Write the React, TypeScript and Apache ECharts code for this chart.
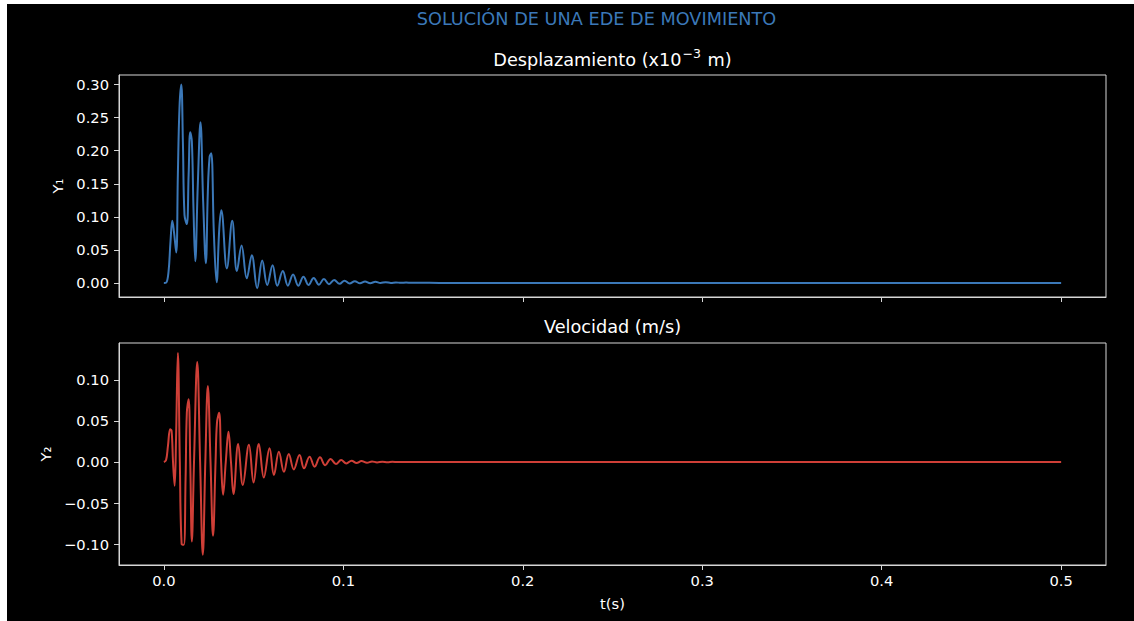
import React, { useEffect, useRef } from "react";
import * as echarts from "echarts";

// Displacement (x10^-3 m): time (s) and value
const T1 = [
  0, 0.0013, 0.0026, 0.0037, 0.0047, 0.0056, 0.0069, 0.0078, 0.0087, 0.0097,
  0.0106, 0.0115, 0.0128, 0.0138, 0.0147, 0.0156, 0.0165, 0.0175, 0.0189, 0.0204,
  0.0219, 0.0234, 0.0245, 0.0255, 0.0264, 0.0279, 0.0294, 0.0309, 0.032, 0.0351,
  0.0381, 0.0407, 0.0433, 0.0462, 0.049, 0.052, 0.0548, 0.0576, 0.0606, 0.0632,
  0.0663, 0.0691, 0.072, 0.0749, 0.0778, 0.0806, 0.0835, 0.0864, 0.0892, 0.092,
  0.0949, 0.0979, 0.1007, 0.1035, 0.1064, 0.1093, 0.1121, 0.115, 0.1179, 0.1207,
  0.1236, 0.1265, 0.1293, 0.1321, 0.135, 0.138, 0.1408, 0.148, 0.1592, 0.2,
  0.3, 0.4, 0.5,
];
const Y1 = [
  0, 0.0005, 0.017, 0.063, 0.094, 0.078, 0.046, 0.164, 0.265, 0.3,
  0.214, 0.103, 0.089, 0.164, 0.228, 0.214, 0.113, 0.033, 0.148, 0.243,
  0.123, 0.03, 0.138, 0.191, 0.196, 0.073, 0.001, 0.083, 0.11, 0.022,
  0.094, 0.018, 0.0565, 0.007, 0.042, -0.008, 0.034, -0.003, 0.027, -0.004,
  0.018, -0.004, 0.013, -0.004, 0.0095, -0.003, 0.0075, -0.0025, 0.006, -0.0018,
  0.0045, -0.0012, 0.0035, -0.0008, 0.0028, -0.0005, 0.0022, -0.0003, 0.0017, 0,
  0.0012, 0.0001, 0.0009, 0.0002, 0.0006, 0.0002, 0.0004, 0.0002, 0.0001, 0,
  0, 0, 0,
];

// Velocity (m/s)
const T2 = [
  0, 0.0012, 0.0023, 0.0035, 0.0043, 0.0051, 0.006, 0.0068, 0.0078, 0.0089,
  0.0099, 0.0111, 0.0121, 0.0128, 0.0138, 0.0147, 0.0156, 0.0168, 0.0186, 0.0202,
  0.0217, 0.0231, 0.0245, 0.026, 0.0274, 0.0288, 0.0296, 0.0308, 0.0319, 0.033,
  0.0345, 0.036, 0.0374, 0.0388, 0.0414, 0.044, 0.0474, 0.05, 0.0529, 0.0557,
  0.0589, 0.0613, 0.0641, 0.0669, 0.0696, 0.0724, 0.0756, 0.0781, 0.0812, 0.084,
  0.087, 0.0899, 0.0929, 0.0959, 0.0988, 0.1017, 0.1046, 0.1074, 0.1101, 0.1132,
  0.116, 0.1188, 0.1218, 0.1246, 0.1274, 0.1302, 0.1369, 0.2, 0.3, 0.4,
  0.5,
];
const Y2 = [
  0, 0.002, 0.02, 0.04, 0.038, 0.0, -0.029, 0.03, 0.133, 0.0,
  -0.1, -0.101, -0.02, 0.06, 0.0765, 0.0, -0.097, 0.0, 0.122, 0.0,
  -0.113, 0.0, 0.0927, 0.0, -0.09, 0.0, 0.048, 0.06, 0.0, -0.04,
  0.0, 0.037, 0.0, -0.039, 0.022, -0.028, 0.021, -0.025, 0.022, -0.019,
  0.0167, -0.016, 0.0126, -0.012, 0.0098, -0.009, 0.0085, -0.0077, 0.0065, -0.0057,
  0.0057, -0.004, 0.0037, -0.0024, 0.0024, -0.0018, 0.0016, -0.0013, 0.0011, -0.0009,
  0.0007, -0.0005, 0.0004, -0.0003, 0.0002, -0.0001, 0, 0, 0, 0,
  0,
];

const X_TICKS = [0, 0.1, 0.2, 0.3, 0.4, 0.5];
const Y1_TICKS = [0, 0.05, 0.1, 0.15, 0.2, 0.25, 0.3];
const Y2_TICKS = [-0.1, -0.05, 0, 0.05, 0.1];

const SUPTITLE = "SOLUCIÓN DE UNA EDE DE MOVIMIENTO";
const TITLE1_MAIN = "Desplazamiento (x10";
const TITLE1_SUP = "\u22123";
const TITLE1_END = " m)";
const TITLE2 = "Velocidad (m/s)";

const FONT = "DejaVu Sans";
const SPINE = "#d6d6d6";
const TXT = "#ffffff";
const TICK_FS = 14.7;
const TITLE_FS = 17.7;

const fmtY = (v: number) => v.toFixed(2).replace("-", "\u2212");

export default function App() {
  const ref = useRef<HTMLDivElement>(null);
  useEffect(() => {
    if (!ref.current) return;
    const chart = echarts.init(ref.current, null, { renderer: "svg" });
    const d1 = T1.map((t, i) => [t, Y1[i]]);
    const d2 = T2.map((t, i) => [t, Y2[i]]);
    const xAxisBase = (idx: number, labels: boolean) => ({
      type: "value",
      gridIndex: idx,
      min: -0.025,
      max: 0.525,
      splitLine: { show: false },
      axisLine: { show: true, onZero: false, lineStyle: { color: SPINE, width: 1 } },
      axisTick: {
        show: true,
        customValues: X_TICKS,
        length: 5,
        lineStyle: { color: SPINE, width: 1 },
      },
      axisLabel: {
        show: labels,
        customValues: X_TICKS,
        formatter: (v: number) => v.toFixed(1),
        color: TXT,
        fontFamily: FONT,
        fontSize: TICK_FS,
        margin: 8,
      },
      name: labels ? "t(s)" : "",
      nameLocation: "middle",
      nameGap: 31,
      nameTextStyle: { color: TXT, fontFamily: FONT, fontSize: TICK_FS },
    });
    const yAxisBase = (
      idx: number,
      min: number,
      max: number,
      ticks: number[],
      name: string,
      gap: number
    ) => ({
      type: "value",
      gridIndex: idx,
      min,
      max,
      splitLine: { show: false },
      axisLine: { show: true, onZero: false, lineStyle: { color: SPINE, width: 1 } },
      axisTick: {
        show: true,
        customValues: ticks,
        length: 5,
        lineStyle: { color: SPINE, width: 1 },
      },
      axisLabel: {
        customValues: ticks,
        formatter: fmtY,
        color: TXT,
        fontFamily: FONT,
        fontSize: TICK_FS,
        margin: 10,
      },
      name,
      nameLocation: "middle",
      nameGap: gap,
      nameTextStyle: { color: TXT, fontFamily: FONT, fontSize: TICK_FS },
    });
    chart.setOption({
      animation: false,
      backgroundColor: "#000000",
      graphic: [
        {
          type: "text",
          x: 589.5,
          y: 15,
          style: {
            text: SUPTITLE,
            fill: "#3b78b8",
            font: `${TITLE_FS}px "${FONT}"`,
            textAlign: "center",
            textVerticalAlign: "middle",
          },
        },
        {
          type: "text",
          x: 605.5,
          y: 54,
          style: {
            text: `{a|${TITLE1_MAIN}}{s|${TITLE1_SUP}}{a|${TITLE1_END}}`,
            textAlign: "center",
            textVerticalAlign: "middle",
            rich: {
              a: {
                fill: TXT,
                fontFamily: FONT,
                fontSize: TITLE_FS,
                lineHeight: 22,
                verticalAlign: "bottom",
              },
              s: {
                fill: TXT,
                fontFamily: FONT,
                fontSize: 12.5,
                lineHeight: 22,
                verticalAlign: "top",
                padding: [0, 1, 0, 1],
              },
            },
          },
        },
        {
          type: "text",
          x: 605.5,
          y: 323,
          style: {
            text: TITLE2,
            fill: TXT,
            font: `${TITLE_FS}px "${FONT}"`,
            textAlign: "center",
            textVerticalAlign: "middle",
          },
        },
      ],
      grid: [
        {
          left: 112,
          top: 71,
          width: 987,
          height: 222,
          show: true,
          borderColor: SPINE,
          borderWidth: 1,
          backgroundColor: "transparent",
        },
        {
          left: 112,
          top: 339,
          width: 987,
          height: 222,
          show: true,
          borderColor: SPINE,
          borderWidth: 1,
          backgroundColor: "transparent",
        },
      ],
      xAxis: [xAxisBase(0, false), xAxisBase(1, true)],
      yAxis: [
        yAxisBase(0, -0.0212, 0.3145, Y1_TICKS, "Y\u2081", 52),
        yAxisBase(1, -0.1256, 0.1451, Y2_TICKS, "Y\u2082", 62),
      ],
      series: [
        {
          type: "line",
          xAxisIndex: 0,
          yAxisIndex: 0,
          data: d1,
          showSymbol: false,
          smooth: 0.4,
          lineStyle: { color: "#3b78b8", width: 2 },
        },
        {
          type: "line",
          xAxisIndex: 1,
          yAxisIndex: 1,
          data: d2,
          showSymbol: false,
          smooth: 0.4,
          lineStyle: { color: "#cf3f37", width: 2 },
        },
      ],
    });
    return () => chart.dispose();
  }, []);
  return (
    <div
      ref={ref}
      style={{
        position: "absolute",
        left: 7,
        top: 4,
        width: 1127,
        height: 617,
        background: "#000",
      }}
    />
  );
}
